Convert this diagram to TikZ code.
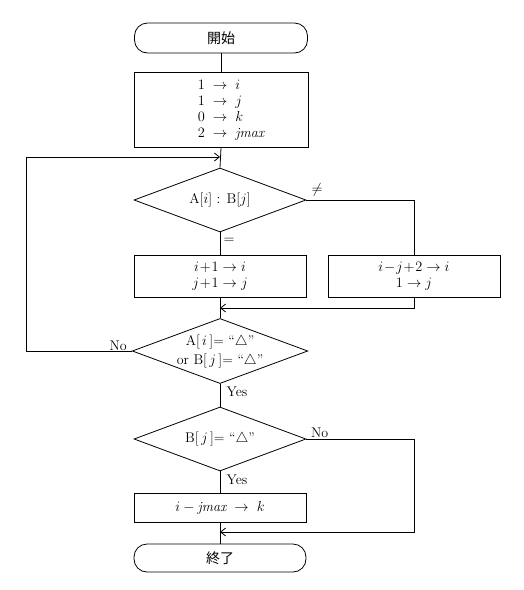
\documentclass[tikz,border=0pt]{standalone}
\usepackage{fontspec}
\newfontfamily\cjk{Noto Sans CJK JP}
\usetikzlibrary{shapes.geometric,arrows.meta}
\begin{document}
\begin{tikzpicture}[x=1pt,y=-1pt,
  every node/.style={font=\fontsize{14}{16}\selectfont},
  line/.style={line width=0.8pt},
  arr/.style={line width=0.8pt,-{Straight Barb[length=5pt,width=8pt]}},
  term/.style={draw,line width=0.8pt,rounded corners=13pt,minimum width=173pt,inner sep=0pt},
  proc/.style={draw,line width=0.8pt,minimum width=172pt,inner sep=0pt,align=center},
  dec/.style={draw,line width=0.8pt,diamond,minimum width=172pt,minimum height=64pt,inner sep=0pt,align=center,shape aspect=2.7},
  lab/.style={inner sep=1pt}]
\useasboundingbox (0,0) rectangle (524,590);
\node[term,minimum height=30pt] (start) at (221,38) {\cjk 開始};
\node[proc,minimum width=174pt,minimum height=75pt] (init) at (221,110)
  {\hspace*{20pt}\begin{tabular}{@{}l@{}}$1\;\rightarrow\; i$\\ $1\;\rightarrow\; j$\\ $0\;\rightarrow\; k$\\ $2\;\rightarrow\; \mathit{jmax}$\end{tabular}};
\node[dec] (d1) at (220,200) {A[$i$] : B[$j$]};
\node[proc,minimum height=42pt] (b2) at (220,276) {$i\!+\!1\rightarrow i$\\ $j\!+\!1\rightarrow j$};
\node[proc,minimum height=42pt] (b3) at (414,276) {$i\!-\!j\!+\!2\rightarrow i$\\ $1\rightarrow j$};
\node[dec,font=\fontsize{14}{19}\selectfont] (d2) at (220,351) {A[$\,i\,$]= ``$\triangle$''\\ or B[$\,j\,$]= ``$\triangle$''};
\node[dec] (d3) at (220,439) {B[$\,j\,$]= ``$\triangle$''};
\node[proc,minimum height=29pt] (b4) at (220,508) {$i-\mathit{jmax}\;\rightarrow\; k$};
\node[term,minimum height=28pt,minimum width=172pt] (end) at (220,558) {\cjk 終了};
\coordinate (j1) at (220,157);
\coordinate (j2) at (220,308);
\coordinate (j3) at (220,532);
\draw[line] (start) -- (init);
\draw[line] (init.south) -- (d1.north);
\draw[arr] (d2.west) -- (26,351) |- (j1);
\draw[line] (d1.south) -- (b2.north);
\draw[line] (d1.east) -| (b3.north);
\draw[line] (b2.south) -- (d2.north);
\draw[arr] (b3.south) |- (j2);
\draw[line] (d2.south) -- (d3.north);
\draw[line] (d3.south) -- (b4.north);
\draw[line] (b4.south) -- (end.north);
\draw[arr] (d3.east) -- (414,439) |- (j3);
\node[lab] (neq) at (317,190) {$\neq$};
\node[lab] (eq) at (229,241) {$=$};
\node[lab,anchor=south east] (no1) at (128,352) {No};
\node[lab] (yes1) at (237,392) {Yes};
\node[lab,anchor=south west] (no2) at (310,439) {No};
\node[lab] (yes2) at (237,480) {Yes};
\end{tikzpicture}
\end{document}
